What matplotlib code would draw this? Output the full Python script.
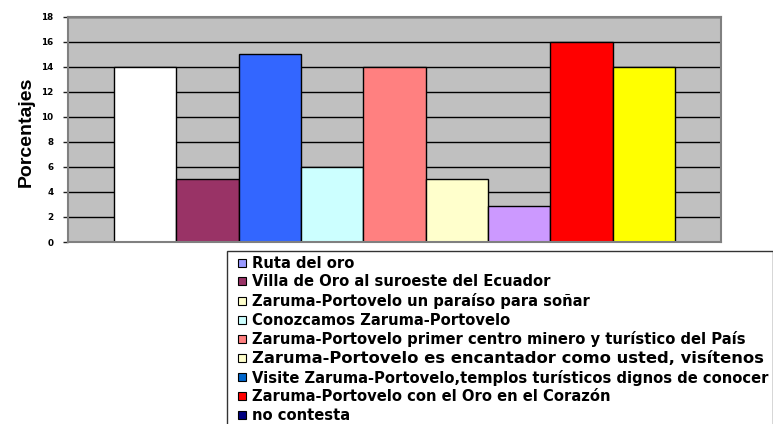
import matplotlib
matplotlib.use("Agg")
import matplotlib.pyplot as plt
from matplotlib.lines import Line2D

# Bar values (percent) and fill colours, left to right
bar_values = [14, 5, 15, 6, 14, 5, 2.9, 16, 14]
bar_colors = ["#FFFFFF", "#993366", "#3366FF", "#CCFFFF", "#FF8080",
              "#FFFFCC", "#CC99FF", "#FF0000", "#FFFF00"]

# Legend entries as they appear in the original
legend_labels = [
    "Ruta del oro",
    "Villa de Oro al suroeste del Ecuador",
    "Zaruma-Portovelo un paraíso para soñar",
    "Conozcamos Zaruma-Portovelo",
    "Zaruma-Portovelo primer centro minero y turístico del País",
    "Zaruma-Portovelo es encantador como usted, visítenos",
    "Visite Zaruma-Portovelo,templos turísticos dignos de conocer",
    "Zaruma-Portovelo con el Oro en el Corazón",
    "no contesta",
]
legend_colors = ["#9999FF", "#993366", "#FFFFCC", "#CCFFFF", "#FF8080",
                 "#FFFFCC", "#0066CC", "#FF0000", "#000080"]

y_ticks = list(range(0, 19, 2))

W, H = 773, 424
fig = plt.figure(figsize=(W / 100, H / 100), dpi=100)
ax = fig.add_axes([68 / W, 1 - 242 / H, (721 - 68) / W, (242 - 16.7) / H])

ax.set_facecolor("#C0C0C0")
ax.bar(range(len(bar_values)), bar_values, width=1.0, color=bar_colors,
       edgecolor="black", linewidth=1.0)

ax.set_xlim(-1.24, len(bar_values) - 1 + 1.24)
ax.set_ylim(0, 18)
ax.set_xticks([])
ax.set_yticks(y_ticks)
ax.set_yticklabels([str(t) for t in y_ticks], fontsize=6.3,
                   fontweight="bold", family="DejaVu Sans")
ax.tick_params(axis="y", length=3.6, width=1, color="#202020", pad=7)

ax.set_axisbelow(True)
ax.yaxis.grid(True, color="black", linewidth=1.0)
for sp in ax.spines.values():
    sp.set_color("#808080")
    sp.set_linewidth(1.5)

ax.set_ylabel("Porcentajes", fontsize=14, fontweight="bold",
              family="Liberation Sans")
ax.yaxis.set_label_coords(-0.0505, 0.49)

# Legend with square swatches, box runs off the right and bottom edges
handles = [Line2D([], [], linestyle="none", marker="s", markersize=6.4,
                  markerfacecolor=c, markeredgecolor="black",
                  markeredgewidth=0.8) for c in legend_colors]
leg = fig.legend(handles, legend_labels, loc="upper left",
                 bbox_to_anchor=(227.5 / W, 1 - 251 / H),
                 bbox_transform=fig.transFigure,
                 prop={"family": "DejaVu Sans", "weight": "bold", "size": 10.6},
                 frameon=True, fancybox=False, shadow=False,
                 borderpad=0.33, borderaxespad=0, handlelength=1.36,
                 handletextpad=-0.03, labelspacing=0.245)
leg.get_frame().set_edgecolor("black")
leg.get_frame().set_linewidth(1.0)
leg.get_texts()[5].set_fontsize(11.8)

fig.savefig("out.png", dpi=100)
